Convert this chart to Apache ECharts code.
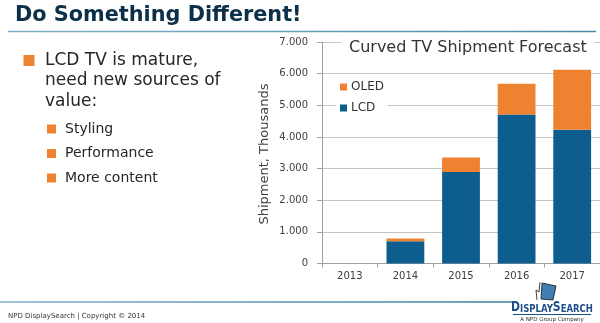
<!DOCTYPE html>
<html><head><meta charset="utf-8">
<script src="https://cdn.jsdelivr.net/npm/echarts@6/dist/echarts.min.js"></script>
<style>html,body{margin:0;padding:0;background:#fff}#c{width:600px;height:323px}</style>
</head><body><div id="c"></div>
<script>
const years = ['2013', '2014', '2015', '2016', '2017'];
const lcd = [0, 700, 2890, 4710, 4230];
const oled = [0, 90, 460, 970, 1890];
const yTicks = [0, 1000, 2000, 3000, 4000, 5000, 6000, 7000];

const FONT = 'DejaVu Sans';
const ORANGE = '#ef8230';
const BLUE = '#0d5e8f';
const TXT = '#262626';

const chart = echarts.init(document.getElementById('c'), null, {renderer: 'canvas'});

function fmt(v) { return String(v).replace(/\B(?=(\d{3})+(?!\d))/g, '.'); }

const bullets = [
  {t: 'LCD TV is mature,', y: 60.5, size: 17, sq: true},
  {t: 'need new sources of', y: 80.5, size: 17},
  {t: 'value:', y: 101.5, size: 17}
];
const subs = [
  {t: 'Styling', y: 129},
  {t: 'Performance', y: 153.5},
  {t: 'More content', y: 178}
];

const graphics = [];
// slide title
graphics.push({type: 'text', left: 15, top: 5, style: {text: 'Do Something Different!', font: 'bold 20.8px "DejaVu Sans"', fill: '#0d3049'}});
graphics.push({type: 'line', shape: {x1: 8, y1: 31.5, x2: 596, y2: 31.5},
  style: {lineWidth: 1.5, stroke: new echarts.graphic.LinearGradient(0, 0, 1, 0, [{offset: 0, color: '#7fb0c8'}, {offset: 1, color: '#4f88a8'}])}});
// bullets
bullets.forEach(b => {
  if (b.sq) graphics.push({type: 'rect', shape: {x: 23.5, y: 55, width: 11, height: 11}, style: {fill: ORANGE}});
  graphics.push({type: 'text', x: 45, y: b.y, style: {text: b.t, font: b.size + 'px "DejaVu Sans"', fill: TXT, verticalAlign: 'middle'}});
});
subs.forEach(b => {
  graphics.push({type: 'rect', shape: {x: 47, y: b.y - 4.5, width: 9, height: 9}, style: {fill: ORANGE}});
  graphics.push({type: 'text', x: 65, y: b.y, style: {text: b.t, font: '14px "DejaVu Sans"', fill: TXT, verticalAlign: 'middle'}});
});
// y axis name
graphics.push({type: 'text', x: 265, y: 154, rotation: Math.PI / 2,
  style: {text: 'Shipment, Thousands', font: '13px "DejaVu Sans"', fill: '#404040', align: 'center', verticalAlign: 'middle'}});
// footer
graphics.push({type: 'line', shape: {x1: 0, y1: 302, x2: 513, y2: 302},
  style: {lineWidth: 1.5, stroke: new echarts.graphic.LinearGradient(0, 0, 1, 0, [{offset: 0, color: '#7fb0c8'}, {offset: 1, color: '#3c7fa3'}])}});
graphics.push({type: 'text', x: 8, y: 316, style: {text: 'NPD DisplaySearch | Copyright \u00a9 2014', font: '7px "DejaVu Sans"', fill: '#333', verticalAlign: 'middle'}});
// logo
graphics.push({type: 'polygon', shape: {points: [[542, 283], [556, 286], [553, 300], [541, 299]]}, style: {fill: '#3f7fb3', stroke: '#111', lineWidth: 0.8}});
graphics.push({type: 'polyline', shape: {points: [[537, 300], [536, 290], [539, 292], [540, 282]]}, style: {stroke: '#111', lineWidth: 0.8, fill: null}});
graphics.push({type: 'text', x: 552, y: 307.5, scaleX: 0.86, style: {
  text: '{b|D}{s|ISPLAY}{b|S}{s|EARCH}', align: 'center', verticalAlign: 'middle',
  rich: {b: {fontFamily: 'DejaVu Sans Condensed', fontSize: 14, fontWeight: 'bold', fill: '#1d4e89', verticalAlign: 'bottom'},
         s: {fontFamily: 'DejaVu Sans Condensed', fontSize: 11, fontWeight: 'bold', fill: '#1d4e89', verticalAlign: 'bottom'}}}});
graphics.push({type: 'line', shape: {x1: 513, y1: 314.5, x2: 591, y2: 314.5}, style: {stroke: '#1d4e89', lineWidth: 1}});
graphics.push({type: 'text', x: 552, y: 320, style: {text: 'A NPD Group Company', font: '5.5px "DejaVu Sans"', fill: '#333', align: 'center', verticalAlign: 'middle'}});

const option = {
  animation: false,
  backgroundColor: '#fff',
  textStyle: {fontFamily: FONT},
  title: {
    text: 'Curved TV Shipment Forecast', left: 341, top: 37,
    padding: [3, 8], backgroundColor: '#fff',
    textStyle: {fontFamily: FONT, fontSize: 16, fontWeight: 'normal', color: '#333'}
  },
  legend: {
    data: ['OLED', 'LCD'], orient: 'vertical', left: 336, top: 77,
    icon: 'rect', itemWidth: 7, itemHeight: 7, itemGap: 9,
    padding: [4, 4], backgroundColor: '#fff',
    textStyle: {fontFamily: FONT, fontSize: 12, color: '#333', padding: [0, 0, 0, -1]}
  },
  grid: {left: 322, top: 42, width: 285, height: 221.5, containLabel: false},
  xAxis: {
    type: 'category', data: years,
    axisLine: {lineStyle: {color: '#a0a0a0'}},
    axisTick: {show: true, length: 4, lineStyle: {color: '#a0a0a0'}},
    axisLabel: {fontFamily: FONT, fontSize: 10, color: '#404040', margin: 8}
  },
  yAxis: {
    type: 'value', min: 0, max: 7000, interval: 1000,
    axisLine: {show: true, lineStyle: {color: '#a0a0a0'}},
    axisTick: {show: true, length: 5, lineStyle: {color: '#a0a0a0'}},
    splitLine: {lineStyle: {color: '#c4c4c4'}},
    axisLabel: {fontFamily: FONT, fontSize: 10, color: '#404040', margin: 14, formatter: fmt}
  },
  series: [
    {name: 'LCD', type: 'bar', stack: 's', data: lcd, barCategoryGap: '32%', itemStyle: {color: BLUE}},
    {name: 'OLED', type: 'bar', stack: 's', data: oled, barCategoryGap: '32%', itemStyle: {color: ORANGE}}
  ],
  graphic: graphics
};
chart.setOption(option);
</script></body></html>
